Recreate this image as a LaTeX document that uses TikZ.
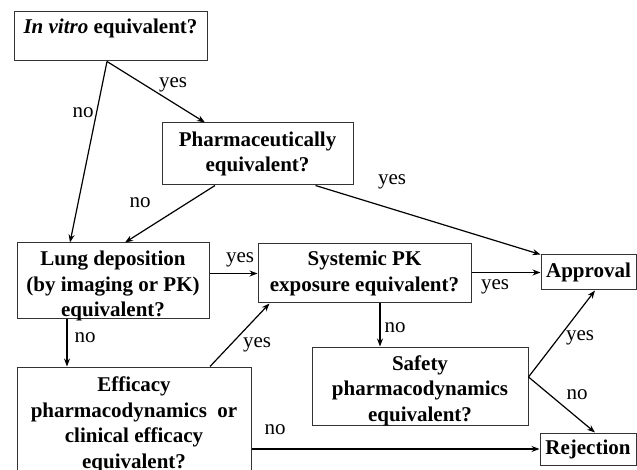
\documentclass[tikz,border=0pt]{standalone}
\usepackage{fontspec}
\setmainfont{Liberation Serif}
\usetikzlibrary{arrows.meta}

\begin{document}
\begin{tikzpicture}[x=0.5pt, y=-0.5pt,
	box/.style={draw=black!80, line width=0.5pt, align=center, inner sep=0pt, font=\fontsize{10.5}{12.7}\selectfont\bfseries},
	lbl/.style={inner sep=0pt, font=\fontsize{10.5}{12.5}\selectfont},
	arr/.style={line width=0.6pt, -{Stealth[length=4pt, width=3pt]}}]
	\useasboundingbox (0,0) rectangle (637,470);
	\clip (0,0) rectangle (637,470);
	\node[box, minimum width=96.5pt, minimum height=24.5pt, text height=8pt, text depth=10.5pt] (invitro) at (110.5,36.5) {\textit{In vitro} equivalent?};
	\node[box, minimum width=95.5pt, minimum height=31pt] (pharm) at (257.5,154) {Pharmaceutically\\equivalent?};
	\node[box, minimum width=96pt, minimum height=37.5pt, text height=36.8pt, text depth=0.7pt] (lung) at (113,280.5) {Lung deposition\\(by imaging or PK)\\equivalent?};
	\node[box, minimum width=106.5pt, minimum height=29.5pt] (sys) at (364.5,273.5) {Systemic PK\\exposure equivalent?};
	\node[box, minimum width=47.5pt, minimum height=17.5pt] (approval) at (588.5,272.5) {Approval};
	\node[box, minimum width=108pt, minimum height=39pt, text height=37.1pt, text depth=1.9pt] (safety) at (420,386) {Safety\\pharmacodynamics\\equivalent?};
	\node[box, minimum width=117pt, minimum height=55pt, text height=50.5pt, text depth=4.5pt] (eff) at (134,422) {Efficacy\\pharmacodynamics\ \ or\\clinical efficacy\\equivalent?};
	\node[box, minimum width=48pt, minimum height=16pt] (rejection) at (588,449) {Rejection};
	\draw[arr] ([xshift=-1.75pt]invitro.south) -- ([xshift=-21.5pt]lung.north);
	\draw[arr] ([xshift=-1.75pt]invitro.south) -- ([xshift=-26.25pt]pharm.north);
	\draw[arr] ([xshift=-21.25pt]pharm.south) -- ([xshift=6pt]lung.north);
	\draw[arr] ([xshift=-19pt]pharm.south east) -- (approval.north west);
	\draw[arr] (lung.east |- sys.west) -- (sys.west);
	\draw[arr] (sys.east |- approval.west) -- (approval.west);
	\draw[arr] ([xshift=-23pt]lung.south) -- ([xshift=-33.5pt]eff.north);
	\draw[arr] ([xshift=38pt]eff.north) -- ([xshift=6pt]sys.south west);
	\draw[arr] ([xshift=7.75pt]sys.south) -- ([xshift=-20pt]safety.north);
	\draw[arr] ([yshift=4.5pt]safety.east) -- ([xshift=3.25pt]approval.south);
	\draw[arr] ([yshift=4.5pt]safety.east) -- ([xshift=3.5pt]rejection.north);
	\draw[arr] (eff.east |- rejection.west) -- (rejection.west);
	\node[lbl] (no1) at (83,113) {no};
	\node[lbl] (yes1) at (173,85) {yes};
	\node[lbl] (no2) at (140,203) {no};
	\node[lbl] (yes2) at (392,182) {yes};
	\node[lbl] (yes3) at (240,260) {yes};
	\node[lbl] (yes4) at (495,287) {yes};
	\node[lbl] (no3) at (85,338) {no};
	\node[lbl] (yes5) at (257,345) {yes};
	\node[lbl] (no4) at (395,328) {no};
	\node[lbl] (yes6) at (580,338) {yes};
	\node[lbl] (no5) at (577,395) {no};
	\node[lbl] (no6) at (275,430) {no};
\end{tikzpicture}
\end{document}
